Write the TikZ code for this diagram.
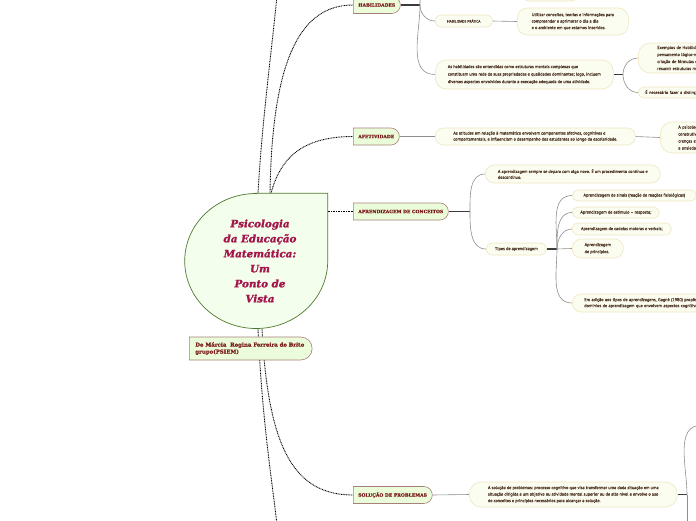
\documentclass[tikz,border=0pt]{standalone}
\usepackage{fontspec}
\usetikzlibrary{shapes.misc,backgrounds}
\newfontfamily\leaffont{PT Sans}[FakeBold=0.3]
\newfontfamily\topicfont{DejaVu Serif Bold}[FakeBold=0.5]
\newfontfamily\corefont{DejaVu Serif Bold Italic}[FakeBold=1.5]
\definecolor{corefill}{HTML}{F4FEEC}
\definecolor{coreborder}{HTML}{4E7A2E}
\definecolor{coretext}{HTML}{A3154B}
\definecolor{topicfill}{HTML}{EAFCD9}
\definecolor{topicborder}{HTML}{A8807A}
\definecolor{topictext}{HTML}{7B1C1C}
\definecolor{leaffill}{HTML}{FAFDEF}
\definecolor{leafborder}{HTML}{F0E5C0}
\definecolor{leaftext}{HTML}{4E3628}
\definecolor{glinecol}{HTML}{8E8E8E}
\definecolor{stubcol}{HTML}{3C3C3C}
\tikzset{
  dotline/.style={draw=black, line width=0.9pt, dash pattern=on 0.9pt off 0.75pt},
  gline/.style={draw=glinecol, line width=0.6pt},
  stub/.style={draw=stubcol, line width=1.1pt},
  topic/.style={rounded rectangle, rounded rectangle west arc=none, draw=topicborder,
    fill=topicfill, line width=0.6pt, anchor=west, inner xsep=5pt, inner ysep=0pt,
    minimum height=17pt, align=left, text=topictext,
    font=\topicfont\fontsize{4.5}{6.5}\selectfont},
  leaf/.style={rectangle, rounded corners=#1, draw=leafborder, fill=leaffill,
    line width=0.6pt, anchor=west, inner xsep=2pt, inner ysep=0pt, align=left,
    text=leaftext, font=\leaffont\fontsize{4.3}{6.5}\selectfont},
  leaf/.default=6pt
}
\begin{document}
\begin{tikzpicture}[x=1pt,y=-1pt]
\useasboundingbox (0,0) rectangle (696,520);

% central node
\node[minimum width=143pt, minimum height=135pt, inner sep=0pt] (core) at (256,261) {};
\path[draw=coreborder, fill=corefill, line width=0.7pt]
  (core.north) -- (core.north east) -- (core.east)
  arc[start angle=0, end angle=-270, x radius=71.5pt, y radius=67.5pt] -- cycle;
\node[align=center, text=coretext,
  font=\corefont\fontsize{10.3}{15}\selectfont] (coretitle) at (260,261)
  {Psicologia\\da Educação\\Matemática:\\Um\\Ponto de\\Vista};

% main topics
\node[topic] (hab) at (353,5) {HABILIDADES};
\node[topic] (afet) at (353,136.5) {AFETIVIDADE};
\node[topic] (apr) at (353,211.5) {APRENDIZAGEM DE CONCEITOS};
\node[topic] (sol) at (353,495) {SOLUÇÃO DE PROBLEMAS};
\node[topic, minimum height=23pt, inner xsep=6pt,
  font=\topicfont\fontsize{5.4}{7}\selectfont] (author) at (189,348.5)
  {De Márcia~ Regina Ferreira de Brito\\grupo(PSIEM)};

% leaves
\node[leaf=7pt, minimum width=56pt, minimum height=14pt] (topleaf) at (522,-6) {};
\node[leaf=6pt, minimum width=57pt, minimum height=12pt, align=center,
  font=\leaffont\fontsize{3.6}{5}\selectfont] (hprat) at (435,21) {HABILIDADE PRÁTICA};
\node[leaf=10pt, minimum width=111pt, minimum height=27pt] (util) at (517,21.5)
  {Utilizar conceitos, teorias e informações para\\compreender e aprimorar o dia a dia\\e o ambiente em que estamos inseridos.};
\node[leaf=11pt, minimum width=178pt, minimum height=29pt,
  font=\leaffont\fontsize{4.3}{7.5}\selectfont] (habdef) at (435,74.5)
  {As habilidades são entendidas como estruturas mentais complexas que\\constituem uma rede de suas propriedades e qualidades dominantes; logo, incluem\\diversos aspectos envolvidos durante a execução adequada de uma atividade.};
\node[leaf=12pt, text width=120pt, inner xsep=19pt, minimum height=30pt,
  font=\leaffont\fontsize{4.3}{7}\selectfont] (exemp) at (638,58)
  {Exemplos de Habilidades: o\\pensamento lógico-matemático,\\criação de fórmulas e\\resumir estruturas matemáticas.};
\node[leaf=5.5pt, text width=120pt, inner xsep=7pt, minimum height=11pt] (distin) at (638,92.5)
  {É necessário fazer a distinção entre habilidade e};
\node[leaf=8pt, minimum width=200pt, minimum height=17pt,
  font=\leaffont\fontsize{4.3}{6}\selectfont] (afdef) at (435,136.5)
  {As atitudes em relação à matemática envolvem componentes afetivos, cognitivos e\\comportamentais, e influenciam o desempenho dos estudantes ao longo da escolaridade.};
\node[leaf=12pt, text width=100pt, inner xsep=18pt, minimum height=31pt,
  font=\leaffont\fontsize{4.3}{7}\selectfont] (psico) at (660,137.5)
  {A psicologia\\construtivista\\crenças e emoções\\a ansiedade};
\node[leaf=9pt, minimum width=175pt, minimum height=18pt,
  font=\leaffont\fontsize{4.3}{5.8}\selectfont] (aprdef) at (485,174)
  {A aprendizagem sempre se depara com algo novo. É um procedimento contínuo e\\descontínuo.};
\node[leaf=6pt, minimum width=60pt, minimum height=12pt] (tipos) at (486,249) {Tipos de aprendizagem};
\node[leaf=5.5pt, minimum width=124pt, minimum height=11pt] (sinais) at (572,195.5)
  {Aprendizagem de sinais (reação de reações fisiológicas)};
\node[leaf=5.5pt, minimum width=87pt, minimum height=11pt] (estim) at (572,212.5)
  {Aprendizagem de estímulo – resposta;};
\node[leaf=6pt, minimum width=99pt, minimum height=12pt] (cadeia) at (572,229)
  {Aprendizagem de cadeias motoras e verbais;};
\node[leaf=9pt, minimum width=51pt, minimum height=19pt,
  font=\leaffont\fontsize{4.3}{7}\selectfont] (princ) at (572,248.5)
  {Aprendizagem\\de princípios.};
\node[leaf=9pt, text width=150pt, inner xsep=12pt, minimum height=18pt,
  font=\leaffont\fontsize{4.3}{6}\selectfont] (gagne) at (572,303)
  {Em adição aos tipos de aprendizagens, Gagné (1980) propôs cinco\\domínios de aprendizagem que envolvem aspectos cognitivos};
\node[leaf=12pt, minimum width=208pt, minimum height=25pt] (soldef) at (469,494.5)
  {A solução de problemas: processo cognitivo que visa transformar uma dada situação em uma\\situação dirigida a um objetivo ou atividade mental superior ou de alto nível e envolve o uso\\de conceitos e princípios necessários para alcançar a solução.};

% free ends
\coordinate (upend) at (277,-5);
\coordinate (downend) at (277,525);
\coordinate (hj) at (420,5);
\coordinate (hup) at (430,-22);
\coordinate (hj2) at (623,74.5);
\coordinate (aj) at (470,211.5);
\coordinate (tj) at (557,249);
\coordinate (sj) at (687,494.5);
\coordinate (supp) at (702,425);
\coordinate (sdown) at (687,525);

\begin{scope}[on background layer]
  % dotted connectors from the central node
  \draw[dotline] ([xshift=2pt]core.north) .. controls (262,120) and (273,40) .. (upend);
  \draw[dotline] ([xshift=14pt]core.north) .. controls (272,60) and (300,5) .. (hab.west);
  \draw[dotline] ([xshift=15pt]core.north) .. controls (280,160) and (300,136.5) .. (afet.west);
  \draw[dotline] (core.east |- apr.west) -- (apr.west);
  \draw[dotline] ([xshift=2pt]core.south) .. controls (262,420) and (272,480) .. (downend);
  \draw[dotline] ([xshift=6pt]core.south) .. controls (268,450) and (295,495) .. (sol.west);

  % HABILIDADES
  \draw[stub] (hab.east) -- (hj);
  \draw[gline] (hj) to[out=90,in=180] (hup);
  \draw[gline] (hj) to[out=-90,in=180] (hprat.west);
  \draw[gline] (hj) to[out=-90,in=180] (habdef.west);
  \draw[gline] (hprat.east) -- (util.west);
  \draw[stub] (habdef.east) -- (hj2);
  \draw[gline] (hj2) to[out=90,in=180] (exemp.west);
  \draw[gline] (hj2) to[out=-90,in=180] (distin.west);

  % AFETIVIDADE
  \draw[gline] (afet.east) -- (afdef.west);
  \draw[gline] (afdef.east) -- (psico.west);

  % APRENDIZAGEM
  \draw[stub] (apr.east) -- (aj);
  \draw[gline] (aj) to[out=90,in=180] (aprdef.west);
  \draw[gline] (aj) to[out=-90,in=180] (tipos.west);
  \draw[stub] (tipos.east) -- (tj);
  \draw[gline] (tj) to[out=90,in=180] (sinais.west);
  \draw[gline] (tj) to[out=90,in=180] (estim.west);
  \draw[gline] (tj) to[out=90,in=180] (cadeia.west);
  \draw[gline] (tj) -- (princ.west);
  \draw[gline] (tj) to[out=-90,in=180] (gagne.west);

  % SOLUCAO
  \draw[gline] (sol.east) -- (soldef.west);
  \draw[stub] (soldef.east) -- (sj);
  \draw[gline] (sj) to[out=90,in=180] (supp);
  \draw[gline] (sj) -- (sdown);
\end{scope}
\end{tikzpicture}
\end{document}
